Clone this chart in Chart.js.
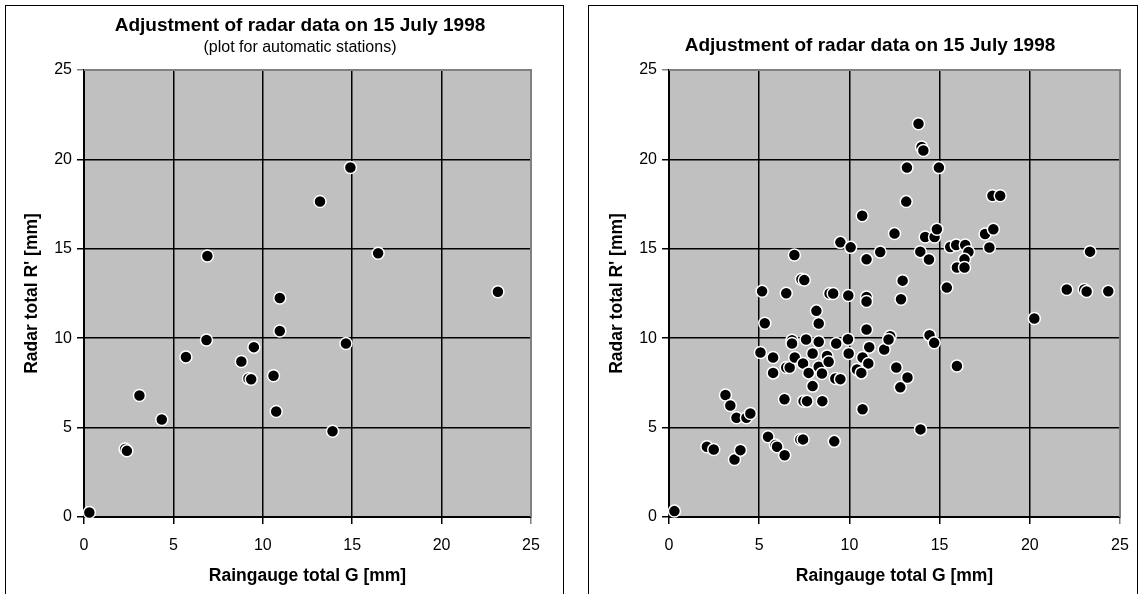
<!DOCTYPE html>
<html>
<head>
<meta charset="utf-8">
<title>Adjustment of radar data on 15 July 1998</title>
<script src="https://cdn.jsdelivr.net/npm/chart.js@4.4.1/dist/chart.umd.min.js"></script>
<style>
  body { margin: 0; background: #fff; overflow: hidden; }
  .panel { position: absolute; top: 5px; border: 1px solid #000; box-sizing: border-box; height: 620px; }
  .panel canvas { position: absolute; left: 0; top: 0; }
</style>
</head>
<body>
<div class="panel" style="left:5px; width:559px;"><canvas id="leftChart" width="588" height="588"></canvas></div>
<div class="panel" style="left:588px; width:550px;"><canvas id="rightChart" width="562" height="588"></canvas></div>
<script>
// Axis ticks shared by both plots
const tickValues = [0, 5, 10, 15, 20, 25];

// Left plot: automatic stations only
const leftGauge = [0.3, 2.3, 2.4, 3.1, 4.35, 5.7, 6.85, 6.9, 8.8, 9.2, 9.35, 9.5, 10.6, 10.75, 10.95, 10.95, 13.2, 13.9, 14.65, 14.9, 16.45, 23.15];
const leftRadar = [0.25, 3.8, 3.7, 6.8, 5.45, 8.95, 9.9, 14.6, 8.7, 7.75, 7.7, 9.5, 7.9, 5.9, 12.25, 10.4, 17.65, 4.8, 9.7, 19.55, 14.75, 12.6];

// Right plot: all stations
const rightGauge = [
  0.3, 2.1, 2.48, 3.63, 3.96, 3.13, 3.4, 3.74, 4.29, 4.51,
  5.49, 5.9, 5.99, 6.41, 7.28, 7.43, 9.16, 6.4, 7.46, 7.65, 8.5, 10.73,
  5.07, 5.31, 5.16, 5.77, 5.77, 6.5, 6.69, 6.82, 6.82, 6.97, 6.5, 6.95,
  7.34, 7.5, 7.6, 7.43, 7.74, 7.96, 7.96, 8.17, 8.3, 8.3, 8.3, 8.48,
  8.76, 8.85, 8.9, 9.1, 9.22, 9.5, 9.27, 9.5, 10.07, 9.94, 9.92, 9.96,
  10.71, 10.95, 10.95, 10.95, 10.95, 10.73, 11.05, 10.42, 10.66, 11.1,
  11.71, 11.93, 12.26, 12.17, 12.5, 12.6, 12.82, 12.86, 12.95, 13.22,
  13.15, 13.19, 13.83, 14.0, 14.1, 14.96, 13.94,
  13.93, 14.41, 14.2, 14.72, 14.85, 14.44, 14.7,
  15.4, 15.59, 15.92, 16.42, 16.6, 16.38, 15.96, 16.38, 15.96,
  17.52, 17.76, 17.98, 17.93, 18.36, 20.25,
  22.05, 23.02, 23.15, 23.34, 24.35
];
const rightRadar = [
  0.33, 3.93, 3.78, 3.22, 3.74, 6.82, 6.24, 5.55, 5.55, 5.79,
  4.49, 4.02, 3.93, 3.45, 4.34, 4.34, 4.23, 6.59, 6.48, 6.48, 6.48, 6.03,
  9.2, 10.84, 12.63, 8.92, 8.06, 8.36, 8.36, 9.89, 9.7, 8.92, 12.51, 14.65,
  13.3, 13.25, 9.93, 8.59, 8.06, 7.32, 9.14, 11.53, 10.82, 9.8, 8.4, 8.03,
  9.01, 8.68, 12.5, 12.5, 7.75, 7.71, 9.7, 15.36, 15.08, 12.39, 9.94, 9.14,
  16.85, 14.41, 12.3, 12.05, 10.49, 8.92, 8.59, 8.25, 8.06, 9.5,
  14.82, 9.37, 10.11, 9.93, 15.85, 8.36, 7.25, 12.18, 13.22, 7.8,
  17.64, 19.54, 21.99, 20.7, 20.5, 19.54, 4.9,
  14.84, 14.4, 15.66, 15.66, 16.09, 10.17, 9.74,
  12.83, 15.1, 15.21, 15.21, 14.82, 14.41, 13.95, 13.95, 8.45,
  15.83, 15.07, 16.09, 17.97, 17.97, 11.1,
  12.72, 12.72, 12.61, 14.84, 12.63
];

const FONT = '"Liberation Sans", Arial, sans-serif';

// grey plot area, with a grey frame on top and right like the original
const plotArea = {
  id: 'plotArea',
  beforeDraw(chart) {
    const a = chart.chartArea, ctx = chart.ctx;
    ctx.save();
    ctx.fillStyle = '#c0c0c0';
    ctx.fillRect(a.left, a.top, a.right - a.left, a.bottom - a.top);
    ctx.restore();
  },
  beforeDatasetsDraw(chart) {
    const a = chart.chartArea, ctx = chart.ctx;
    ctx.save();
    ctx.strokeStyle = '#808080';
    ctx.lineWidth = 2;
    ctx.beginPath();
    ctx.moveTo(a.left, a.top);
    ctx.lineTo(a.right, a.top);
    ctx.lineTo(a.right, a.bottom);
    ctx.stroke();
    ctx.restore();
  }
};

// rightSpace: an empty right-hand scale, so the centred title sits where
// it does in the original (it is centred over the whole box, not the plot)
function makeChart(id, gauge, radar, opts) {
  const points = gauge.map((g, i) => ({ x: g, y: radar[i] }));
  const gridColor = c => (c.tick && c.tick.value === 25 ? '#808080' : '#000');
  const setTicks = s => { s.ticks = tickValues.map(v => ({ value: v })); };
  return new Chart(document.getElementById(id), {
    type: 'scatter',
    data: {
      datasets: [{
        data: points,
        backgroundColor: '#000',
        borderColor: '#fff',
        borderWidth: 1.5,
        pointRadius: 6,
        pointHoverRadius: 6,
        clip: false
      }]
    },
    options: {
      responsive: false,
      animation: false,
      events: [],
      layout: { padding: 0 },
      plugins: {
        legend: { display: false },
        tooltip: { enabled: false },
        title: {
          display: true,
          text: 'Adjustment of radar data on 15 July 1998',
          color: '#000',
          font: { family: FONT, size: 19, weight: 'bold', lineHeight: 1.2 },
          padding: opts.titlePad
        },
        subtitle: {
          display: !!opts.subtitle,
          text: opts.subtitle || '',
          color: '#000',
          font: { family: FONT, size: 16, lineHeight: 1.2 },
          padding: opts.subPad || 0
        }
      },
      scales: {
        x: {
          type: 'linear',
          min: 0, max: 25,
          afterBuildTicks: setTicks,
          afterFit: s => { s.height = 77; },
          grid: { color: gridColor, lineWidth: 1.5, tickLength: 7 },
          border: { color: '#000', width: 2 },
          ticks: { color: '#000', font: { family: FONT, size: 16 }, padding: 12 },
          title: {
            display: true,
            text: 'Raingauge total G [mm]',
            color: '#000',
            font: { family: FONT, size: 17.5, weight: 'bold', lineHeight: 1.2 },
            padding: { top: 0, bottom: 7.5 }
          }
        },
        y: {
          type: 'linear',
          min: 0, max: 25,
          afterBuildTicks: setTicks,
          afterFit: s => { s.width = opts.yWidth; },
          grid: { color: gridColor, lineWidth: 1.5, tickLength: 7 },
          border: { color: '#000', width: 2 },
          ticks: { color: '#000', font: { family: FONT, size: 16 }, padding: 5 },
          title: {
            display: true,
            text: "Radar total R' [mm]",
            color: '#000',
            font: { family: FONT, size: 17.5, weight: 'bold', lineHeight: 1.2 },
            padding: { top: opts.yTitlePad, bottom: 0 }
          }
        },
        rightSpace: {
          type: 'linear',
          axis: 'y',
          position: 'right',
          min: 0, max: 25,
          afterFit: s => { s.width = opts.rightSpace; },
          grid: { display: false },
          border: { display: false },
          ticks: { display: false }
        }
      }
    },
    plugins: [plotArea]
  });
}

makeChart('leftChart', leftGauge, leftRadar, {
  subtitle: '(plot for automatic stations)',
  titlePad: { top: 8, bottom: 1 },
  subPad: { top: 0.5, bottom: 12.5 },
  yWidth: 78,
  rightSpace: 63,
  yTitlePad: 15.5
});

makeChart('rightChart', rightGauge, rightRadar, {
  titlePad: { top: 28.6, bottom: 12.6 },
  yWidth: 80,
  rightSpace: 31,
  yTitlePad: 17.5
});
</script>
</body>
</html>
